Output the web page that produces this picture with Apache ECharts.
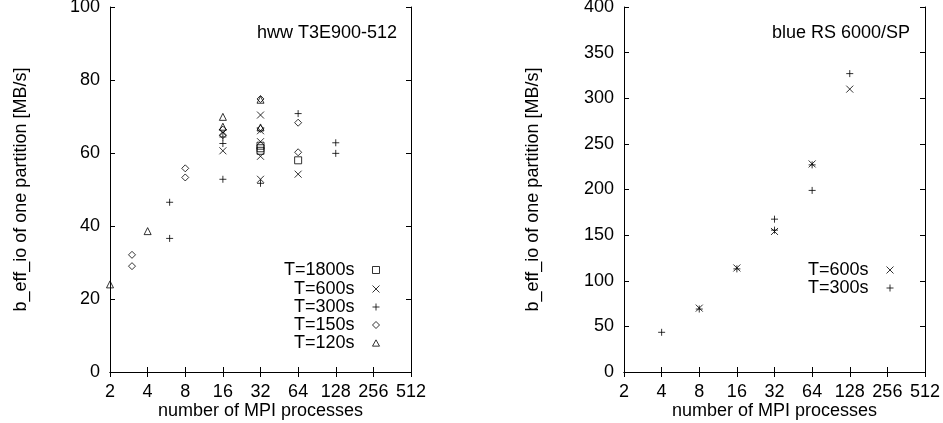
<!DOCTYPE html>
<html>
<head>
<meta charset="utf-8">
<title>b_eff_io</title>
<script src="https://cdn.jsdelivr.net/npm/echarts@6/dist/echarts.min.js"></script>
<style>
  html, body { margin: 0; padding: 0; background: #fff; }
  #chart { width: 943px; height: 423px; }
</style>
</head>
<body>
<div id="chart"></div>
<script>
  // x ticks are powers of two (log2 axis)
  const PROCS_MIN = 2
  const PROCS_MAX = 512

  // left panel: hww T3E900-512, [processes, MB/s]
  const hwwT1800 = [[32, 62.0], [32, 61.3], [32, 60.6], [64, 58.0]]
  const hwwT600 = [[16, 65.6], [16, 60.6], [32, 70.4], [32, 66.1], [32, 63.1], [32, 59.1], [32, 52.8], [64, 54.2]]
  const hwwT300 = [[6, 46.5], [6, 36.6], [16, 64.4], [16, 62.6], [16, 52.8], [32, 51.7], [64, 70.8], [128, 62.8], [128, 59.9]]
  const hwwT150 = [[3, 32.1], [3, 29.0], [8, 55.8], [8, 53.3], [16, 66.4], [16, 64.9], [32, 74.8], [32, 66.6], [64, 68.3], [64, 60.2]]
  const hwwT120 = [[2, 24.0], [4, 38.6], [16, 69.9], [16, 67.2], [32, 74.6], [32, 67.0]]

  // right panel: blue RS 6000/SP
  const blueT600 = [[8, 70], [16, 114], [32, 154], [64, 228], [128, 310]]
  const blueT300 = [[4, 43.5], [8, 69], [16, 113], [32, 167.5], [32, 155.5], [64, 227], [64, 199], [128, 327]]

  const FONT = 'Liberation Sans, Arial, sans-serif'
  const TEXT_COLOR = '#000'
  const SYMBOL = {
    square: 'path://M0,0L10,0L10,10L0,10Z',
    cross: 'path://M0,0L10,10M10,0L0,10',
    plus: 'path://M5,0L5,10M0,5L10,5',
    diamond: 'path://M5,0L10,5L5,10L0,5Z',
    triangle: 'path://M5,0L10,9L0,9Z'
  }

  function xAxisPair(gridIndex) {
    let base = {
      gridIndex: gridIndex,
      type: 'log',
      logBase: 2,
      min: PROCS_MIN,
      max: PROCS_MAX,
      axisLine: { show: true, lineStyle: { color: '#000', width: 1 } },
      axisTick: { show: true, inside: true, length: 5, lineStyle: { color: '#000' } },
      splitLine: { show: false },
      minorTick: { show: false }
    }
    return [
      Object.assign({}, base, {
        position: 'bottom',
        name: 'number of MPI processes',
        nameLocation: 'middle',
        nameGap: 30,
        nameMoveOverlap: false,
        nameTextStyle: { fontFamily: FONT, fontSize: 18, color: TEXT_COLOR },
        axisLabel: { fontFamily: FONT, fontSize: 18, color: TEXT_COLOR, margin: 11, showMinLabel: true, showMaxLabel: true }
      }),
      Object.assign({}, base, { position: 'top', axisLabel: { show: false } })
    ]
  }

  function yAxisPair(gridIndex, max, interval, nameGap) {
    let base = {
      gridIndex: gridIndex,
      type: 'value',
      min: 0,
      max: max,
      interval: interval,
      axisLine: { show: true, lineStyle: { color: '#000', width: 1 } },
      axisTick: { show: true, inside: true, length: 5, lineStyle: { color: '#000' } },
      splitLine: { show: false }
    }
    return [
      Object.assign({}, base, {
        position: 'left',
        name: 'b_eff_io of one partition [MB/s]',
        nameLocation: 'middle',
        nameRotate: 90,
        nameGap: nameGap,
        nameTextStyle: { fontFamily: FONT, fontSize: 18, color: TEXT_COLOR },
        axisLabel: { fontFamily: FONT, fontSize: 18, color: TEXT_COLOR, margin: 10 }
      }),
      Object.assign({}, base, { position: 'right', axisLabel: { show: false } })
    ]
  }

  function scatter(name, data, symbol, axisIdx) {
    return {
      name: name,
      type: 'scatter',
      xAxisIndex: axisIdx,
      yAxisIndex: axisIdx,
      data: data,
      symbol: symbol,
      symbolSize: 7,
      clip: false,
      itemStyle: { color: 'rgba(0,0,0,0)', borderColor: '#000', borderWidth: 1 },
      emphasis: { disabled: true }
    }
  }

  // one legend per row so the text is right aligned and the symbols line up
  function legendRow(name, top, right) {
    return {
      data: [name],
      top: top,
      right: right,
      padding: 0,
      align: 'right',
      itemWidth: 7,
      itemHeight: 7,
      selectedMode: false,
      itemStyle: { borderWidth: 1 },
      textStyle: { fontFamily: FONT, fontSize: 18, color: TEXT_COLOR, lineHeight: 18, padding: [0, 13, 0, 0] }
    }
  }

  let leftNames = ['T=1800s', 'T=600s', 'T=300s', 'T=150s', 'T=120s']
  let leftTops = [261, 280, 298, 316, 334]
  let legends = leftNames.map((n, i) => legendRow(n, leftTops[i], 563))
  legends.push(legendRow('T=600s', 261, 49))
  legends.push(legendRow('T=300s', 279, 49))

  let leftX = xAxisPair(0)
  let rightX = xAxisPair(1)
  let leftY = yAxisPair(0, 100, 20, 80)
  let rightY = yAxisPair(1, 400, 50, 82)

  let option = {
    animation: false,
    backgroundColor: '#fff',
    textStyle: { fontFamily: FONT },
    title: [
      { text: 'hww T3E900-512', right: 546, top: 24, padding: 0,
        textStyle: { fontFamily: FONT, fontSize: 18, fontWeight: 'normal', color: TEXT_COLOR } },
      { text: 'blue RS 6000/SP', right: 33, top: 24, padding: 0,
        textStyle: { fontFamily: FONT, fontSize: 18, fontWeight: 'normal', color: TEXT_COLOR } }
    ],
    // fixed plot boxes, do not let labels push them around
    grid: [
      { left: 110, top: 7, width: 301, height: 365, outerBoundsMode: 'none' },
      { left: 624, top: 7, width: 301, height: 365, outerBoundsMode: 'none' }
    ],
    // axes 0,1 belong to the left grid, 2,3 to the right grid
    xAxis: [leftX[0], leftX[1], rightX[0], rightX[1]],
    yAxis: [leftY[0], leftY[1], rightY[0], rightY[1]],
    legend: legends,
    series: [
      scatter('T=1800s', hwwT1800, SYMBOL.square, 0),
      scatter('T=600s', hwwT600, SYMBOL.cross, 0),
      scatter('T=300s', hwwT300, SYMBOL.plus, 0),
      scatter('T=150s', hwwT150, SYMBOL.diamond, 0),
      scatter('T=120s', hwwT120, SYMBOL.triangle, 0),
      scatter('T=600s', blueT600, SYMBOL.cross, 2),
      scatter('T=300s', blueT300, SYMBOL.plus, 2)
    ]
  }

  let myChart = echarts.init(document.getElementById('chart'))
  myChart.setOption(option)
</script>
</body>
</html>
